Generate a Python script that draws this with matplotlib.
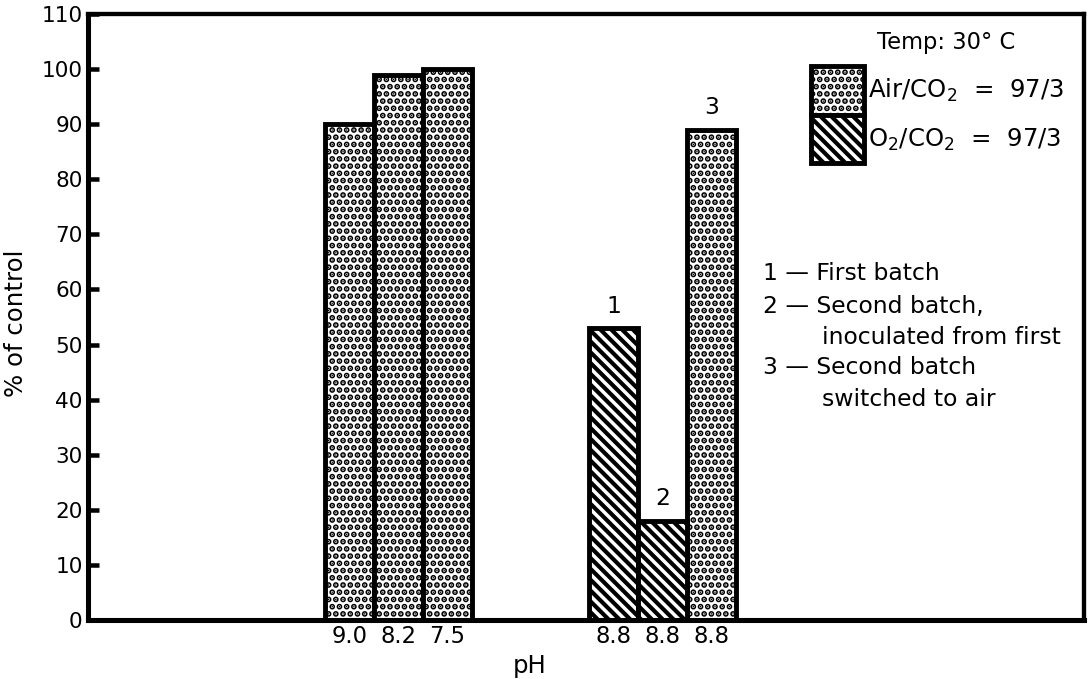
import numpy as np
import matplotlib
matplotlib.use("Agg")
import matplotlib.pyplot as plt

plt.rcParams["font.family"] = ["DejaVu Sans"]
plt.rcParams["mathtext.default"] = "regular"
plt.rcParams["hatch.linewidth"] = 2.3
plt.rcParams["hatch.color"] = "black"

# data
ph_labels = ["9.0", "8.2", "7.5", "8.8", "8.8", "8.8"]
percent_of_control = [90, 99, 100, 53, 18, 89]
gas_mix = ["air", "air", "air", "o2", "o2", "air"]
group = [0, 0, 0, 1, 1, 1]
batch_numbers = ["", "", "", "1", "2", "3"]
yticks = list(range(0, 111, 10))

notes = [
    "1 \u2014 First batch",
    "2 \u2014 Second batch,",
    "inoculated from first",
    "3 \u2014 Second batch",
    "switched to air",
]

vals = np.array(percent_of_control, dtype=float)
x = np.arange(len(vals)) + np.array(group) * 2.4

fig = plt.figure(figsize=(1091 / 130, 679 / 130), dpi=130)
ax = fig.add_axes([88 / 1091, 59 / 679, 996 / 1091, 606 / 679])

styles = {
    "air": dict(hatch="...", label="Air/CO$_2$  =  97/3"),
    "o2": dict(hatch="\\\\\\\\", label="O$_2$/CO$_2$  =  97/3"),
}

handles = []
for key in ["air", "o2"]:
    st = styles[key]
    mask = np.array([g == key for g in gas_mix])
    bars = ax.bar(x[mask], vals[mask], width=1.0, facecolor="white",
                  edgecolor="black", linewidth=2.7, hatch=st["hatch"],
                  label=st["label"], zorder=2)
    handles.append(bars)

for xi, v, b in zip(x, vals, batch_numbers):
    if b:
        ax.text(xi, v + 1.9, b, ha="center", va="bottom", fontsize=13)

ax.set_xlim(-5.33, 15.0)
ax.set_ylim(0, 110)
ax.set_yticks(yticks)
ax.set_xticks(x)
ax.set_xticklabels(ph_labels)
ax.tick_params(axis="y", direction="in", length=6, width=2.5, labelsize=12, pad=3)
ax.tick_params(axis="x", length=0, labelsize=12.5, pad=3)
for s in ax.spines.values():
    s.set_linewidth(2.4)
ax.spines["left"].set_linewidth(2.8)
ax.spines["bottom"].set_linewidth(2.8)

ax.set_ylabel("% of control", fontsize=13.5)
ax.yaxis.set_label_coords(-0.060, 0.49)
ax.set_xlabel("pH", fontsize=13.5)
ax.xaxis.set_label_coords((530 - 88) / 996, -0.056)

ax.legend(handles=handles, loc="upper left", bbox_to_anchor=(0.726, 0.914),
          fontsize=13.5, frameon=False, handlelength=2.15, handleheight=2.69,
          labelspacing=0.0, handletextpad=0.2, borderpad=0.0, borderaxespad=0.0)
ax.text((877 - 88) / 996, (620 - 43) / 606, "Temp: 30\u00b0 C", transform=ax.transAxes,
        ha="left", va="center", fontsize=12.5)

note_x = [763, 763, 822, 763, 822]
note_y = [273, 307, 337, 368, 400]
for t, px, py in zip(notes, note_x, note_y):
    ax.text((px - 88) / 996, (620 - py) / 606, t, transform=ax.transAxes,
            ha="left", va="center", fontsize=13)

fig.savefig("out.png", dpi=130)
